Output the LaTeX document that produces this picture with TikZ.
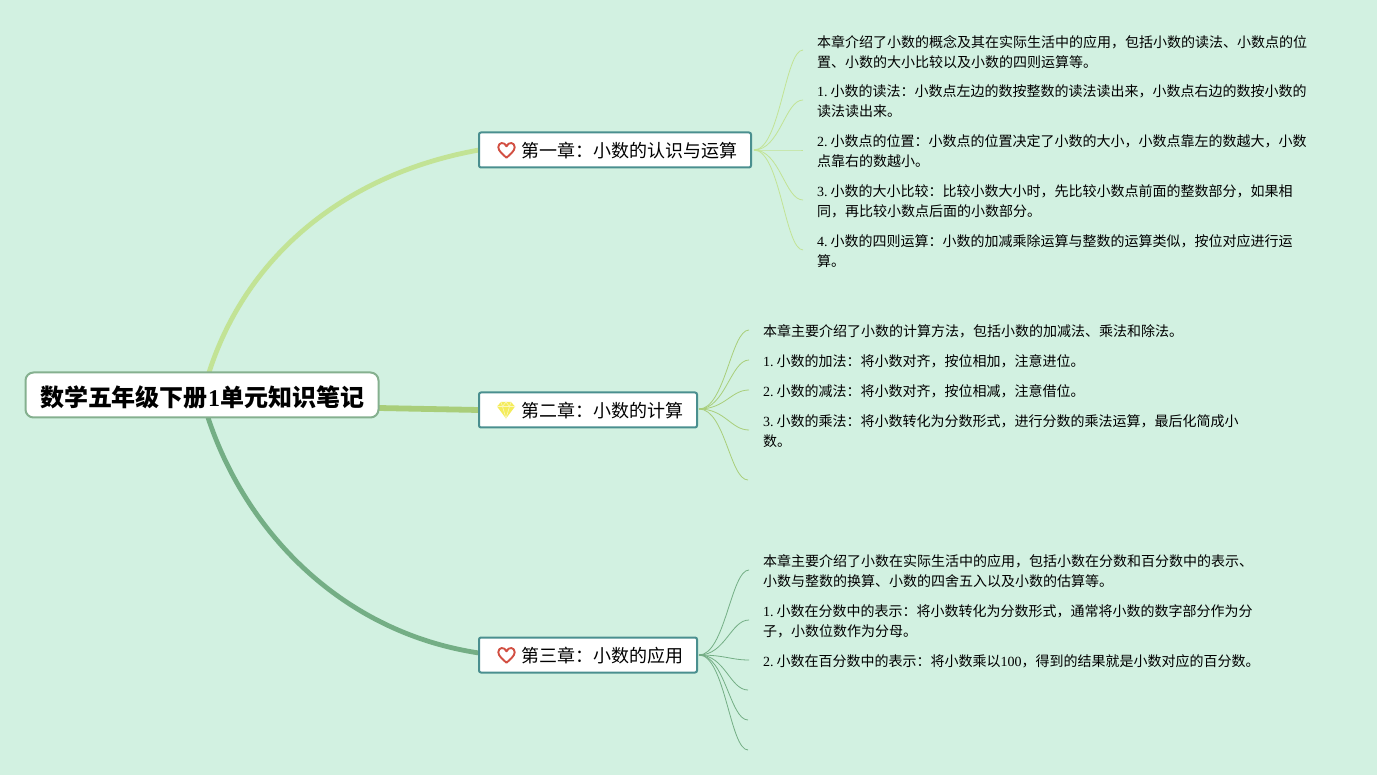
\documentclass[tikz,border=0pt]{standalone}
\usepackage{fontspec}
\setmainfont{Noto Sans CJK SC}
\newfontfamily\latf{Liberation Serif}
\newcommand{\lat}[1]{{\latf #1}\hspace{3pt}}
\newcommand{\latin}[1]{{\latf #1}}
\usetikzlibrary{calc}
\pgfdeclarelayer{bg}
\pgfsetlayers{bg,main}
\definecolor{bgc}{HTML}{D2F1E1}
\definecolor{rootb}{HTML}{85B08F}
\definecolor{topicb}{HTML}{4A8F8F}
\definecolor{brA}{HTML}{C2E395}
\definecolor{brB}{HTML}{A9CE7A}
\definecolor{brC}{HTML}{74AE85}
\definecolor{heartc}{HTML}{D24F42}
\definecolor{gemc}{HTML}{F4EC5A}
\tikzset{
  rootnode/.style={draw=rootb,line width=2pt,fill=white,rounded corners=8pt,anchor=center,outer sep=0pt,inner sep=0pt,minimum width=353pt,minimum height=45pt,text height=24.2pt,text depth=2pt,font=\fontsize{24}{28}\selectfont\bfseries},
  topicnode/.style={draw=topicb,line width=2pt,fill=white,rounded corners=2pt,anchor=west,outer sep=0pt,inner ysep=0pt,inner xsep=14pt,minimum height=35pt,text height=17.8pt,text depth=2pt,font=\fontsize{18}{22}\selectfont},
  leaf/.style={anchor=west,align=left,inner xsep=14pt,inner ysep=0pt,outer sep=0pt,font=\fontsize{14}{20}\selectfont},
  branch/.style={line width=4.8pt},
  twig/.style={line width=0.8pt},
  heart/.pic={\draw[heartc,line width=1.9pt,line join=round] (0,7.2) .. controls (-3,4.5) and (-8.2,0.5) .. (-8.2,-3.2) .. controls (-8.2,-8.6) and (-1.8,-8.8) .. (0,-4.2) .. controls (1.8,-8.8) and (8.2,-8.6) .. (8.2,-3.2) .. controls (8.2,0.5) and (3,4.5) .. (0,7.2) -- cycle;},
  gem/.pic={\fill[gemc] (-5,-8) -- (5,-8) -- (9,-3.5) -- (0,8.5) -- (-9,-3.5) -- cycle;
    \draw[white!60!gemc,line width=0.6pt] (-9,-3.5) -- (9,-3.5) (-5,-8) -- (-3.5,-3.5) -- (0,8.5) -- (3.5,-3.5) -- (5,-8) (-3.5,-3.5) -- (0,-8) -- (3.5,-3.5);}
}
\begin{document}
\begin{tikzpicture}[x=1pt,y=-1pt]
\useasboundingbox (0,0) rectangle (1377,775);
\begin{pgfonlayer}{bg}
\fill[bgc] (0,0) rectangle (1377,775);
\end{pgfonlayer}

\node[rootnode] (root) at (202,395) {\hspace*{1pt}数学五年级下册{\latf\bfseries 1}\hspace{1pt}单元知识笔记};
\node[topicnode] (t1) at (479,150) {\hspace*{28pt}第一章：小数的认识与运算};
\node[topicnode] (t2) at (479,410) {\hspace*{28pt}第二章：小数的计算};
\node[topicnode] (t3) at (479,655) {\hspace*{28pt}第三章：小数的应用};
\pic at (506.5,150.5) {heart};
\pic at (506,410) {gem};
\pic at (506.5,655.5) {heart};

\node[leaf] (a1) at (803,52) {本章介绍了小数的概念及其在实际生活中的应用，包括小数的读法、小数点的位\\置、小数的大小比较以及小数的四则运算等。};
\node[leaf] (a2) at (803,101) {\lat{1.}小数的读法：小数点左边的数按整数的读法读出来，小数点右边的数按小数的\\读法读出来。};
\node[leaf] (a3) at (803,151) {\lat{2.}小数点的位置：小数点的位置决定了小数的大小，小数点靠左的数越大，小数\\点靠右的数越小。};
\node[leaf] (a4) at (803,201) {\lat{3.}小数的大小比较：比较小数大小时，先比较小数点前面的整数部分，如果相\\同，再比较小数点后面的小数部分。};
\node[leaf] (a5) at (803,251) {\lat{4.}小数的四则运算：小数的加减乘除运算与整数的运算类似，按位对应进行运\\算。};

\node[leaf] (b1) at (749,331) {本章主要介绍了小数的计算方法，包括小数的加减法、乘法和除法。};
\node[leaf] (b2) at (749,361) {\lat{1.}小数的加法：将小数对齐，按位相加，注意进位。};
\node[leaf] (b3) at (749,391) {\lat{2.}小数的减法：将小数对齐，按位相减，注意借位。};
\node[leaf] (b4) at (749,431) {\lat{3.}小数的乘法：将小数转化为分数形式，进行分数的乘法运算，最后化简成小\\数。};
\coordinate (b5) at (748,480);

\node[leaf] (c1) at (749,571) {本章主要介绍了小数在实际生活中的应用，包括小数在分数和百分数中的表示、\\小数与整数的换算、小数的四舍五入以及小数的估算等。};
\node[leaf] (c2) at (749,621) {\lat{1.}小数在分数中的表示：将小数转化为分数形式，通常将小数的数字部分作为分\\子，小数位数作为分母。};
\node[leaf] (c3) at (749,661) {\lat{2.}小数在百分数中的表示：将小数乘以\latin{100}，得到的结果就是小数对应的百分数。};
\coordinate (c4) at (748,690);
\coordinate (c5) at (748,720);
\coordinate (c6) at (748,750);

\begin{pgfonlayer}{bg}
\draw[branch,brA] ([xshift=7pt]root.north) .. controls (245,260) and (340,175) .. (t1.west);
\draw[branch,brB,line width=5.8pt] ([yshift=-13pt]root.east) -- (t2.west);
\draw[branch,brC] ([xshift=6pt]root.south) .. controls (245,530) and (340,632) .. ([yshift=2pt]t3.west);
\end{pgfonlayer}

\draw[twig,brA] ([xshift=3pt]t1.east) .. controls +(26,0) and +(-18,0) .. ([yshift=2pt]a1.west);
\foreach \e in {a2,a3,a4,a5}
  \draw[twig,brA] ([xshift=3pt]t1.east) .. controls +(26,0) and +(-18,0) .. ([yshift=1pt]\e.west);
\foreach \e in {b1,b2,b3,b4}
  \draw[twig,brB] ([xshift=2pt,yshift=1pt]t2.east) .. controls +(26,0) and +(-18,0) .. ([yshift=1pt]\e.west);
\draw[twig,brB] ([xshift=2pt,yshift=1pt]t2.east) .. controls +(26,0) and +(-18,0) .. (b5);
\foreach \e in {c1,c2,c3}
  \draw[twig,brC] ([xshift=2pt]t3.east) .. controls +(26,0) and +(-18,0) .. ([yshift=1pt]\e.west);
\foreach \e in {c4,c5,c6}
  \draw[twig,brC] ([xshift=2pt]t3.east) .. controls +(26,0) and +(-18,0) .. (\e);
\end{tikzpicture}
\end{document}
